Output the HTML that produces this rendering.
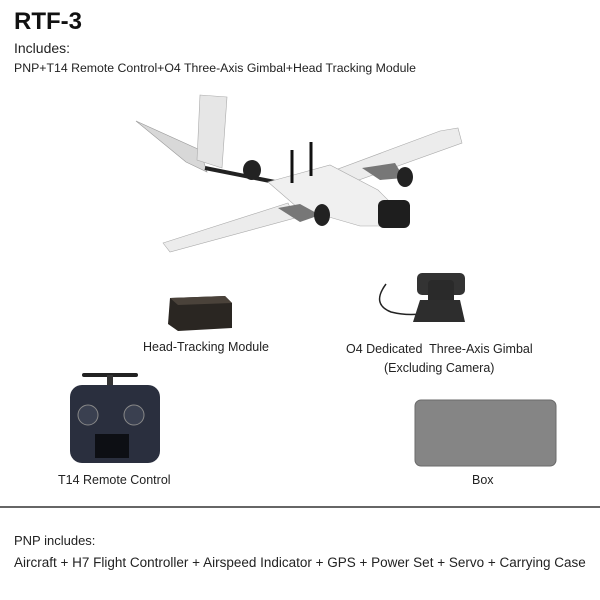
<!DOCTYPE html>
<html><head><meta charset="utf-8"><style>
body{margin:0;width:600px;height:600px;background:#fff;position:relative;overflow:hidden;font-family:"Liberation Sans",sans-serif;color:#222}
.t{position:absolute;white-space:nowrap}
</style></head><body>
<div class="t" style="left:14px;top:8px;font-size:24px;font-weight:bold;color:#111">RTF-3</div>
<div class="t" style="left:14px;top:40px;font-size:14px">Includes:</div>
<div class="t" style="left:14px;top:61px;font-size:12.3px">PNP+T14 Remote Control+O4 Three-Axis Gimbal+Head Tracking Module</div>
<svg width="600" height="600" style="position:absolute;left:0;top:0">
 <polygon points="136,121 200,150 207,172 186,162" fill="#d8d8d8" stroke="#999" stroke-width="0.6"/>
 <polygon points="200,95 227,97 222,168 197,160" fill="#e6e6e6" stroke="#aaa" stroke-width="0.6"/>
 <line x1="205" y1="168" x2="275" y2="182" stroke="#222" stroke-width="4"/>
 <ellipse cx="252" cy="170" rx="9" ry="10" fill="#222"/>
 <polygon points="163,243 170,252 295,218 288,203" fill="#ececec" stroke="#aaa" stroke-width="0.6"/>
 <polygon points="330,172 345,185 462,143 458,128 440,131" fill="#ececec" stroke="#aaa" stroke-width="0.6"/>
 <polygon points="268,182 330,165 378,190 400,212 394,226 360,226 298,208" fill="#f0f0f0" stroke="#aaa" stroke-width="0.6"/>
 <rect x="378" y="200" width="32" height="28" rx="6" fill="#1e1e1e"/>
 <line x1="292" y1="150" x2="292" y2="183" stroke="#111" stroke-width="3"/>
 <line x1="311" y1="142" x2="311" y2="176" stroke="#111" stroke-width="3"/>
 <polygon points="278,208 300,204 320,215 300,222" fill="#777"/>
 <ellipse cx="322" cy="215" rx="8" ry="11" fill="#222"/>
 <polygon points="362,168 395,163 404,178 380,180" fill="#777"/>
 <ellipse cx="405" cy="177" rx="8" ry="10" fill="#222"/>
 <polygon points="170,298 225,296 232,303 232,328 178,331 168,324" fill="#2a2622"/>
 <polygon points="170,298 225,296 232,303 178,305" fill="#4a423a"/>
 <path d="M386,284 q-15,20 5,28 q20,5 40,0" stroke="#222" stroke-width="1.5" fill="none"/>
 <rect x="417" y="273" width="48" height="22" rx="5" fill="#333"/>
 <rect x="428" y="280" width="26" height="30" rx="4" fill="#2a2a2a"/>
 <polygon points="413,322 420,300 460,300 465,322" fill="#2d2d2d"/>
 <rect x="82" y="373" width="56" height="4" rx="2" fill="#222"/>
 <rect x="107" y="375" width="6" height="15" fill="#333"/>
 <rect x="70" y="385" width="90" height="78" rx="12" fill="#2a2f3e"/>
 <circle cx="88" cy="415" r="10" fill="#3a4050" stroke="#888" stroke-width="1"/>
 <circle cx="134" cy="415" r="10" fill="#3a4050" stroke="#888" stroke-width="1"/>
 <rect x="95" y="434" width="34" height="24" fill="#0d0f14"/>
 <rect x="415" y="400" width="141" height="66" rx="6" fill="#858585" stroke="#6a6a6a"/>
 <line x1="0" y1="507" x2="600" y2="507" stroke="#333" stroke-width="1.5"/>
</svg>
<div class="t" style="left:143px;top:340px;font-size:12.5px">Head-Tracking Module</div>
<div class="t" style="left:346px;top:342px;font-size:12.5px">O4 Dedicated&nbsp; Three-Axis Gimbal</div>
<div class="t" style="left:384px;top:361px;font-size:12.5px">(Excluding Camera)</div>
<div class="t" style="left:58px;top:473px;font-size:12.5px">T14 Remote Control</div>
<div class="t" style="left:472px;top:473px;font-size:12.5px">Box</div>
<div class="t" style="left:14px;top:533px;font-size:13px">PNP includes:</div>
<div class="t" style="left:14px;top:555px;font-size:13.5px">Aircraft + H7 Flight Controller + Airspeed Indicator + GPS + Power Set + Servo + Carrying Case</div>
</body></html>
